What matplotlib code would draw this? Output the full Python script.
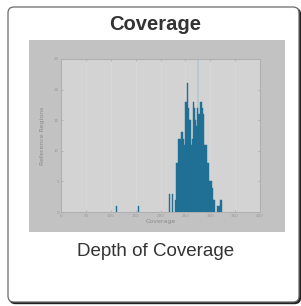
import numpy as np
import matplotlib
matplotlib.use("Agg")
import matplotlib.pyplot as plt
from matplotlib.patches import FancyBboxPatch, Rectangle

# ---- data ----
title = "Coverage"
caption = "Depth of Coverage"
x_label = "Coverage"
y_label = "Reference Regions"
bin_start = 111.0
bin_width = 2.12
# counts per bin (bin index -> count)
bin_index = [0, 21, 50, 53, 56, 57, 58, 59, 60, 61, 62, 63, 64, 65, 66, 67, 68,
             69, 70, 71, 72, 73, 74, 75, 76, 77, 78, 79, 80, 81, 82, 83, 84, 85,
             86, 87, 88, 89, 90, 91, 92, 93, 96, 97, 98, 99]
counts = [1, 1, 3, 3, 2, 8, 8, 12, 12, 13, 13, 12, 11, 18, 18, 21, 17,
          15, 15, 11, 12, 18, 17, 15, 14, 17, 16, 18, 18, 17, 16, 11, 11, 11,
          8, 8, 5, 5, 5, 4, 2, 2, 1, 1, 2, 2]
mean_line = 276
x_ticks = [0, 50, 100, 150, 200, 250, 300, 350, 400]
y_ticks = [0, 5, 10, 15, 20, 25]

W, H = 301, 306
fig = plt.figure(figsize=(W / 100, H / 100), dpi=100)
fig.patch.set_facecolor("white")

def py(y):
    return H - y

# card shadow + card
shadow = FancyBboxPatch((8 + 1.5, py(302) - 1.5), 291, 295,
                        boxstyle="round,pad=0,rounding_size=6",
                        transform=None, facecolor="#222222", edgecolor="#222222",
                        linewidth=1.0, zorder=0)
fig.patches.append(shadow)
card = FancyBboxPatch((8, py(302)), 291, 295,
                      boxstyle="round,pad=0,rounding_size=6",
                      transform=None, facecolor="white", edgecolor="#6a6a6a",
                      linewidth=0.9, zorder=1)
fig.patches.append(card)

# image background
img_bg = Rectangle((29, py(232)), 256, 192, transform=None,
                   facecolor="#c2c2c2", edgecolor="none", zorder=2)
fig.patches.append(img_bg)

fig.text(155 / W, py(24) / H, title, ha="center", va="center",
         fontsize=14.5, fontweight="bold", color="#333333",
         family="Liberation Sans")
fig.text(156 / W, py(251) / H, caption, ha="center", va="center",
         fontsize=13.5, color="#333333", family="Liberation Sans")

ax = fig.add_axes([61 / W, py(212) / H, 199 / W, 153 / H], zorder=3)
ax.set_facecolor("#d3d3d3")

centers = [bin_start + bin_width * (i + 0.5) for i in bin_index]
ax.bar(centers, counts, width=bin_width, color="#206f94",
       edgecolor="#206f94", linewidth=0.3, zorder=3)
ax.axvline(mean_line, color="#b6c8d2", linewidth=1.3, zorder=2)

ax.set_xlim(0, 400)
ax.set_ylim(0, 25)
ax.set_xticks(x_ticks)
ax.set_yticks(y_ticks)
ax.set_xticklabels([str(t) for t in x_ticks])
ax.set_yticklabels([str(t) for t in y_ticks])
ax.tick_params(axis="both", labelsize=3, colors="#9a9a9a", length=1.2,
               width=0.4, direction="in", top=True, right=True, pad=1.5)
ax.grid(axis="x", color="#dadada", linewidth=0.5, zorder=1)
ax.set_axisbelow(True)
for s in ax.spines.values():
    s.set_color("#b0b0b0")
    s.set_linewidth(0.8)
ax.set_xlabel(x_label, fontsize=4.5, color="#8a8a8a", labelpad=1)
ax.set_ylabel(y_label, fontsize=4.5, color="#8a8a8a", labelpad=6)

fig.savefig("out.png", dpi=100, facecolor="white")
